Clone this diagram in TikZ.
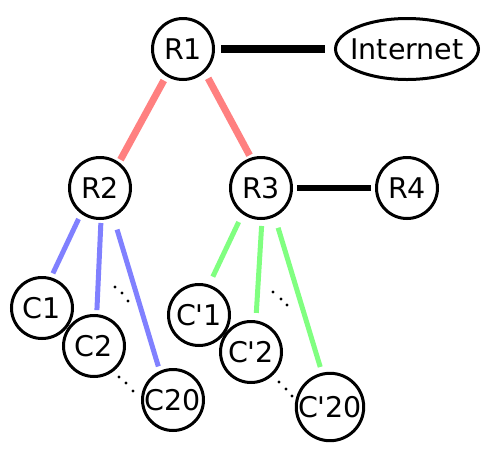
\documentclass[tikz,border=0pt]{standalone}
\usepackage{fontspec}
% plain family: keeps the straight apostrophe in the client names
\newfontfamily\labelfont{DejaVu Sans}
\usetikzlibrary{shapes.geometric}
\definecolor{linkred}{HTML}{FF8080}
\definecolor{linkblue}{HTML}{8080FF}
\definecolor{linkgreen}{HTML}{80FF80}
\begin{document}
\begin{tikzpicture}[x=1pt,y=-1pt,
  lbl/.style={font=\labelfont\fontsize{28.5}{30}\selectfont},
  host/.style={circle,draw,line width=3pt,minimum size=61pt,inner sep=0pt,outer sep=0pt,lbl},
  cloud/.style={ellipse,draw,line width=3pt,minimum width=143pt,minimum height=61pt,
    inner sep=0pt,outer sep=0pt},
  uplink/.style={line width=7.5pt,black},
  corelink/.style={line width=7pt,linkred},
  leftlink/.style={line width=5pt,linkblue},
  rightlink/.style={line width=5pt,linkgreen},
  dot/.style={black}]
\useasboundingbox (0,0) rectangle (485,451);

% routers and the outside network
\node[host] (R1) at (183,49) {R1};
\node[cloud,label={[lbl]center:Internet}] (Inet) at (407,49) {};
\node[host] (R2) at (100,188) {R2};
\node[host] (R3) at (261,188) {R3};
\node[host] (R4) at (407,188) {R4};

% clients under R2
\node[host] (C1) at (42,308) {C1};
\node[host] (C2) at (94,346) {C2};
\node[host] (C20) at (173,400) {C20};

% clients under R3
\node[host] (D1) at (199,315) {C'1};
\node[host] (D2) at (251,352) {C'2};
\node[host] (D20) at (330,407) {C'20};

% black links
\draw[uplink,shorten <=7.5pt,shorten >=10.5pt] (R1.east) -- (Inet.west);
\draw[uplink,line width=6.5pt,shorten <=5.5pt,shorten >=5.5pt] (R3.east) -- (R4.west);

% red links
\draw[corelink,shorten <=6.4pt,shorten >=4.5pt] (R1.-122.8) -- (R2.53.1);
\draw[corelink,shorten <=8.4pt,shorten >=4.3pt] (R1.-46) -- (R3.108.4);

% blue links
\draw[leftlink,shorten <=7.3pt,shorten >=5.9pt] (R2.-127.5) -- (C1.74);
\draw[leftlink,shorten <=4.5pt,shorten >=5.5pt] (R2.-88.4) -- (C2.85);
\draw[leftlink,shorten <=14.5pt,shorten >=6.2pt] (R2.-65.1) -- (C20.115.9);

% green links
\draw[rightlink,shorten <=10.3pt,shorten >=10.3pt] (R3.-126) -- (D1.72.9);
\draw[rightlink,shorten <=7.5pt,shorten >=9pt] (R3.-88.5) -- (D2.81);
\draw[rightlink,shorten <=12.9pt,shorten >=7.5pt] (R3.-64) -- (D20.103.7);

% ellipsis dots for the omitted clients
\foreach \p in {(115,287),(122,293),(128,301),
                (119,377),(126,383),(133,391),
                (273,292),(281,299),(287,305),
                (279,382),(286,389),(292,396)}
  \fill[dot] \p circle (1.6pt);
\end{tikzpicture}
\end{document}
